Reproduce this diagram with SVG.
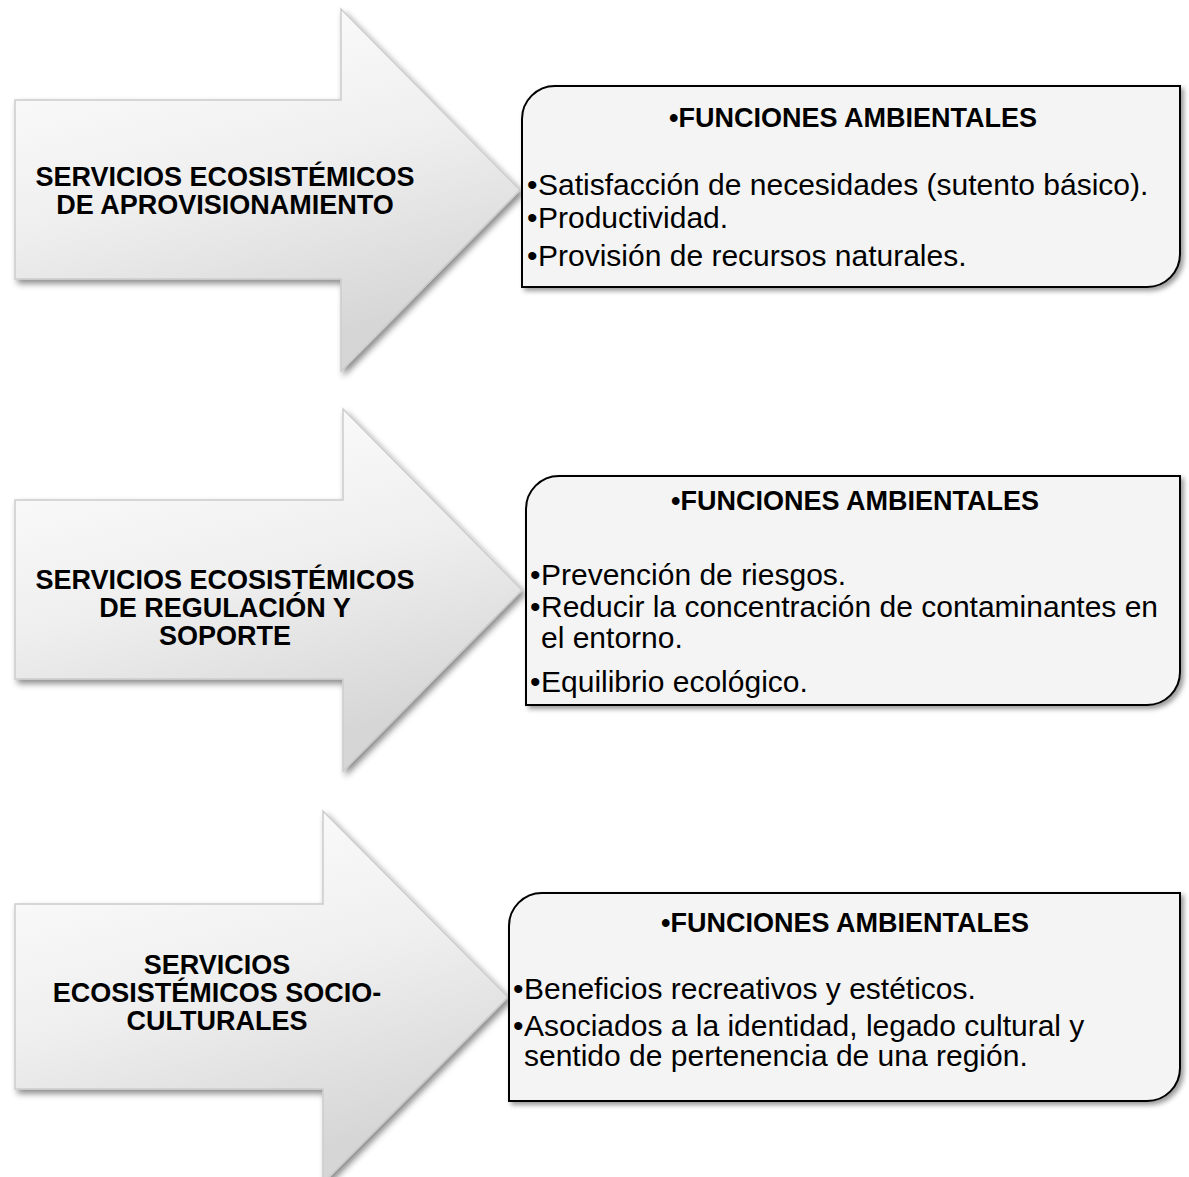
<svg xmlns="http://www.w3.org/2000/svg" width="1189" height="1177" viewBox="0 0 1189 1177">
<defs>
  <linearGradient id="arrowFill" x1="0" y1="0" x2="0.35" y2="1">
    <stop offset="0" stop-color="#ffffff"/>
    <stop offset="0.55" stop-color="#efefef"/>
    <stop offset="1" stop-color="#d6d6d6"/>
  </linearGradient>
  <filter id="shadow" x="-10%" y="-10%" width="130%" height="130%">
    <feDropShadow dx="3" dy="4" stdDeviation="3" flood-color="#000" flood-opacity="0.45"/>
  </filter>
  <filter id="boxShadow" x="-10%" y="-10%" width="130%" height="130%">
    <feDropShadow dx="3" dy="3" stdDeviation="2.5" flood-color="#000" flood-opacity="0.4"/>
  </filter>
</defs>
<style>
  .arrow { fill: url(#arrowFill); stroke: #cccccc; stroke-width: 1.5; filter: url(#shadow); }
  .box { fill: #f4f4f4; stroke: #000; stroke-width: 2; filter: url(#boxShadow); }
  .atext { font-family: "Liberation Sans", Arial, sans-serif; font-weight: bold; font-size: 27px; fill: #000; text-anchor: middle; }
  .title { font-family: "Liberation Sans", Arial, sans-serif; font-weight: bold; font-size: 27px; fill: #000; text-anchor: middle; }
  .btext { font-family: "Liberation Sans", Arial, sans-serif; font-size: 30px; fill: #000; }
</style>

<g id="arrow1">
  <path class="arrow" d="M15,100 H341 V9 L520,190 L341,371 V279 H15 Z"/>
  <text class="atext" x="225" y="186">SERVICIOS ECOSISTÉMICOS</text>
  <text class="atext" x="225" y="214">DE APROVISIONAMIENTO</text>
</g>
<g id="box1">
  <path class="box" d="M522,119 A33,33 0 0 1 555,86 H1180 V254 A33,33 0 0 1 1147,287 H522 Z"/>
  <text class="title" x="853" y="127">•FUNCIONES AMBIENTALES</text>
  <text class="btext" x="527" y="195">•</text><text class="btext" x="538" y="195">Satisfacción de necesidades (sutento básico).</text>
  <text class="btext" x="527" y="228">•</text><text class="btext" x="538" y="228">Productividad.</text>
  <text class="btext" x="527" y="266">•</text><text class="btext" x="538" y="266">Provisión de recursos naturales.</text>
</g>

<g id="arrow2">
  <path class="arrow" d="M15,500 H343 V409 L522,590 L343,771 V679 H15 Z"/>
  <text class="atext" x="225" y="589">SERVICIOS ECOSISTÉMICOS</text>
  <text class="atext" x="225" y="617">DE REGULACIÓN Y</text>
  <text class="atext" x="225" y="645">SOPORTE</text>
</g>
<g id="box2">
  <path class="box" d="M526,509 A33,33 0 0 1 559,476 H1180 V672 A33,33 0 0 1 1147,705 H526 Z"/>
  <text class="title" x="855" y="510">•FUNCIONES AMBIENTALES</text>
  <text class="btext" x="530" y="585">•</text><text class="btext" x="541" y="585">Prevención de riesgos.</text>
  <text class="btext" x="530" y="617">•</text><text class="btext" x="541" y="617">Reducir la concentración de contaminantes en</text>
  <text class="btext" x="541" y="648">el entorno.</text>
  <text class="btext" x="530" y="692">•</text><text class="btext" x="541" y="692">Equilibrio ecológico.</text>
</g>

<g id="arrow3">
  <path class="arrow" d="M15,904 H323 V811 L508,997 L323,1183 V1089 H15 Z"/>
  <text class="atext" x="217" y="974">SERVICIOS</text>
  <text class="atext" x="217" y="1002">ECOSISTÉMICOS SOCIO-</text>
  <text class="atext" x="217" y="1030">CULTURALES</text>
</g>
<g id="box3">
  <path class="box" d="M509,926 A33,33 0 0 1 542,893 H1180 V1068 A33,33 0 0 1 1147,1101 H509 Z"/>
  <text class="title" x="845" y="932">•FUNCIONES AMBIENTALES</text>
  <text class="btext" x="513" y="999">•</text><text class="btext" x="524" y="999">Beneficios recreativos y estéticos.</text>
  <text class="btext" x="513" y="1036">•</text><text class="btext" x="524" y="1036">Asociados a la identidad, legado cultural y</text>
  <text class="btext" x="524" y="1066">sentido de pertenencia de una región.</text>
</g>

<g id="connectors"></g>
</svg>
